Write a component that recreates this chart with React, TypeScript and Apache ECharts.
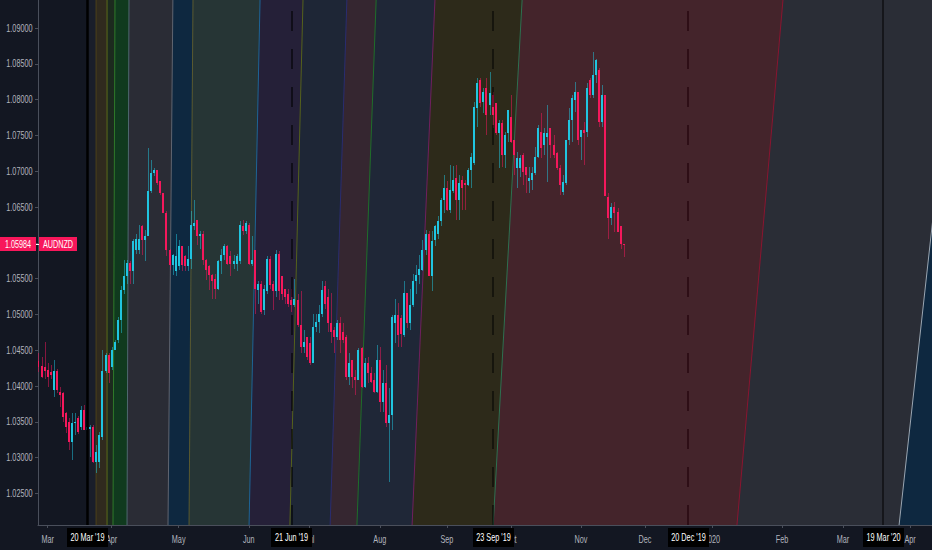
import React, { useEffect, useRef } from "react";
import * as echarts from "echarts";

// ---- Daily AUDNZD candles (bar index 0 = 26 Feb 2019, weekdays only) ----
const opens = [
  1.0435,1.0428,1.0427,1.0422,1.0420,1.0394,1.0421,1.0392,1.0390,1.0362,
  1.0350,1.0322,1.0348,1.0355,1.0343,1.0366,1.0338,1.0340,1.0343,1.0294,
  1.0294,1.0329,1.0421,1.0443,1.0427,1.0450,1.0464,1.0492,1.0534,1.0553,
  1.0572,1.0560,1.0590,1.0590,1.0623,1.0604,1.0609,1.0672,1.0697,1.0702,
  1.0686,1.0669,1.0641,1.0590,1.0569,1.0560,1.0567,1.0595,1.0581,1.0567,
  1.0578,1.0623,1.0632,1.0609,1.0613,1.0576,1.0567,1.0555,1.0550,1.0536,
  1.0574,1.0583,1.0595,1.0581,1.0571,1.0571,1.0574,1.0623,1.0616,1.0625,
  1.0571,1.0590,1.0534,1.0543,1.0506,1.0532,1.0578,1.0543,1.0532,1.0585,
  1.0553,1.0536,1.0529,1.0520,1.0513,1.0520,1.0485,1.0455,1.0469,1.0460,
  1.0432,1.0483,1.0490,1.0501,1.0539,1.0525,1.0488,1.0478,1.0469,1.0488,
  1.0476,1.0469,1.0413,1.0436,1.0413,1.0408,1.0453,1.0399,1.0432,1.0418,
  1.0408,1.0392,1.0436,1.0378,1.0404,1.0348,1.0359,1.0488,1.0499,1.0495,
  1.0471,1.0530,1.0488,1.0513,1.0546,1.0555,1.0562,1.0590,1.0613,1.0553,
  1.0604,1.0613,1.0630,1.0660,1.0676,1.0646,1.0672,1.0690,1.0660,1.0688,
  1.0683,1.0681,1.0702,1.0711,1.0788,1.0827,1.0797,1.0816,1.0792,1.0806,
  1.0795,1.0753,1.0767,1.0723,1.0753,1.0776,1.0743,1.0704,1.0704,1.0723,
  1.0706,1.0686,1.0688,1.0697,1.0720,1.0755,1.0737,1.0748,1.0760,1.0737,
  1.0725,1.0704,1.0671,1.0683,1.0744,1.0772,1.0800,1.0811,1.0748,1.0758,
  1.0755,1.0827,1.0806,1.0834,1.0841,1.0769,1.0806,1.0664,1.0634,1.0650,
  1.0643,1.0623,1.0599,
];
const closes = [
  1.0427,1.0413,1.0421,1.0413,1.0415,1.0421,1.0394,1.0387,1.0357,1.0343,
  1.0322,1.0348,1.0350,1.0336,1.0366,1.0338,1.0343,1.0343,1.0294,1.0308,
  1.0331,1.0421,1.0443,1.0418,1.0450,1.0462,1.0492,1.0534,1.0553,1.0572,
  1.0560,1.0602,1.0606,1.0606,1.0604,1.0609,1.0672,1.0697,1.0702,1.0683,
  1.0669,1.0641,1.0590,1.0569,1.0583,1.0581,1.0595,1.0569,1.0567,1.0578,
  1.0625,1.0627,1.0609,1.0613,1.0576,1.0562,1.0555,1.0546,1.0536,1.0574,
  1.0583,1.0595,1.0571,1.0571,1.0574,1.0581,1.0625,1.0616,1.0627,1.0571,
  1.0576,1.0536,1.0543,1.0504,1.0536,1.0578,1.0541,1.0532,1.0585,1.0532,
  1.0529,1.0525,1.0515,1.0513,1.0522,1.0485,1.0455,1.0462,1.0441,1.0432,
  1.0483,1.0490,1.0501,1.0534,1.0515,1.0488,1.0476,1.0469,1.0488,1.0464,
  1.0464,1.0413,1.0432,1.0413,1.0408,1.0450,1.0399,1.0432,1.0418,1.0406,
  1.0392,1.0436,1.0378,1.0404,1.0348,1.0359,1.0497,1.0499,1.0471,1.0473,
  1.0530,1.0488,1.0513,1.0546,1.0555,1.0564,1.0590,1.0613,1.0553,1.0602,
  1.0623,1.0630,1.0660,1.0676,1.0646,1.0674,1.0688,1.0660,1.0683,1.0676,
  1.0681,1.0702,1.0720,1.0790,1.0823,1.0795,1.0811,1.0779,1.0809,1.0779,
  1.0753,1.0767,1.0723,1.0751,1.0786,1.0741,1.0723,1.0718,1.0718,1.0699,
  1.0695,1.0690,1.0697,1.0720,1.0760,1.0732,1.0753,1.0753,1.0737,1.0723,
  1.0704,1.0681,1.0685,1.0744,1.0772,1.0802,1.0811,1.0744,1.0758,1.0753,
  1.0816,1.0806,1.0834,1.0855,1.0769,1.0806,1.0666,1.0634,1.0650,1.0641,
  1.0615,1.0599,1.0598,
];
const highs = [
  1.0446,1.0441,1.0462,1.0432,1.0430,1.0436,1.0424,1.0399,1.0392,1.0364,
  1.0355,1.0362,1.0362,1.0358,1.0372,1.0373,1.0350,1.0345,1.0345,1.0317,
  1.0336,1.0450,1.0446,1.0446,1.0455,1.0464,1.0497,1.0539,1.0576,1.0576,
  1.0574,1.0606,1.0613,1.0625,1.0625,1.0618,1.0732,1.0716,1.0704,1.0702,
  1.0686,1.0669,1.0644,1.0592,1.0585,1.0613,1.0604,1.0595,1.0583,1.0595,
  1.0644,1.0660,1.0632,1.0616,1.0616,1.0578,1.0569,1.0557,1.0557,1.0576,
  1.0592,1.0599,1.0597,1.0588,1.0583,1.0585,1.0630,1.0632,1.0630,1.0627,
  1.0609,1.0590,1.0546,1.0546,1.0541,1.0581,1.0581,1.0546,1.0590,1.0588,
  1.0553,1.0536,1.0536,1.0536,1.0550,1.0529,1.0532,1.0478,1.0469,1.0469,
  1.0501,1.0501,1.0513,1.0546,1.0546,1.0536,1.0530,1.0483,1.0492,1.0497,
  1.0488,1.0471,1.0446,1.0436,1.0422,1.0453,1.0455,1.0439,1.0441,1.0427,
  1.0418,1.0457,1.0455,1.0422,1.0429,1.0397,1.0499,1.0522,1.0516,1.0499,
  1.0546,1.0530,1.0536,1.0557,1.0569,1.0583,1.0604,1.0618,1.0616,1.0616,
  1.0625,1.0637,1.0662,1.0695,1.0686,1.0709,1.0707,1.0709,1.0695,1.0693,
  1.0688,1.0704,1.0725,1.0797,1.0830,1.0830,1.0816,1.0830,1.0839,1.0811,
  1.0795,1.0772,1.0772,1.0755,1.0786,1.0806,1.0743,1.0727,1.0723,1.0725,
  1.0706,1.0706,1.0706,1.0734,1.0765,1.0781,1.0760,1.0793,1.0760,1.0750,
  1.0727,1.0709,1.0695,1.0744,1.0788,1.0806,1.0825,1.0811,1.0758,1.0769,
  1.0823,1.0830,1.0867,1.0857,1.0844,1.0820,1.0806,1.0669,1.0655,1.0657,
  1.0648,1.0623,1.0599,
];
const lows = [
  1.0420,1.0411,1.0410,1.0399,1.0410,1.0385,1.0390,1.0371,1.0350,1.0335,
  1.0310,1.0296,1.0331,1.0333,1.0338,1.0338,1.0318,1.0301,1.0292,1.0278,
  1.0285,1.0324,1.0418,1.0404,1.0422,1.0450,1.0460,1.0474,1.0529,1.0543,
  1.0543,1.0543,1.0585,1.0585,1.0583,1.0574,1.0609,1.0669,1.0693,1.0681,
  1.0667,1.0641,1.0581,1.0562,1.0555,1.0553,1.0562,1.0560,1.0560,1.0560,
  1.0564,1.0618,1.0597,1.0592,1.0569,1.0548,1.0534,1.0522,1.0522,1.0534,
  1.0557,1.0576,1.0569,1.0553,1.0564,1.0560,1.0571,1.0611,1.0613,1.0569,
  1.0567,1.0501,1.0515,1.0501,1.0499,1.0529,1.0536,1.0506,1.0525,1.0520,
  1.0520,1.0515,1.0511,1.0504,1.0511,1.0483,1.0446,1.0446,1.0436,1.0429,
  1.0432,1.0476,1.0474,1.0497,1.0508,1.0476,1.0460,1.0446,1.0464,1.0446,
  1.0460,1.0408,1.0401,1.0397,1.0387,1.0408,1.0397,1.0397,1.0404,1.0404,
  1.0390,1.0390,1.0364,1.0364,1.0343,1.0266,1.0338,1.0460,1.0455,1.0455,
  1.0469,1.0481,1.0478,1.0511,1.0529,1.0543,1.0560,1.0583,1.0553,1.0532,
  1.0595,1.0606,1.0623,1.0641,1.0644,1.0641,1.0669,1.0632,1.0632,1.0646,
  1.0646,1.0679,1.0676,1.0709,1.0762,1.0790,1.0781,1.0751,1.0779,1.0760,
  1.0751,1.0704,1.0706,1.0704,1.0741,1.0739,1.0695,1.0676,1.0692,1.0681,
  1.0669,1.0669,1.0674,1.0695,1.0718,1.0718,1.0723,1.0685,1.0718,1.0718,
  1.0702,1.0667,1.0667,1.0681,1.0737,1.0741,1.0783,1.0737,1.0716,1.0709,
  1.0748,1.0802,1.0802,1.0823,1.0762,1.0762,1.0666,1.0606,1.0625,1.0615,
  1.0615,1.0592,1.0580,
];

// ---- axes ----
const monthTickIdx = [3, 24, 46, 69, 89, 112, 134, 155, 178, 199, 221, 244, 264, 286];
const monthTickLabels = ["Mar", "Apr", "May", "Jun", "Jul", "Aug", "Sep", "Oct", "Nov", "Dec", "2020", "Feb", "Mar", "Apr"];
const priceTicks = [1.025, 1.03, 1.035, 1.04, 1.045, 1.05, 1.055, 1.06, 1.065, 1.07, 1.075, 1.08, 1.085, 1.09];

// ---- vertical event lines ----
const eventIdx = [16, 83, 149, 213, 277];
const eventLabels = ["20 Mar '19", "21 Jun '19", "23 Sep '19", "20 Dec '19", "19 Mar '20"];

// ---- fan bands: each starts at a boundary (bar index at plot bottom / at plot top) ----
const bandStartBottom = [16, 18.9, 22.5, 24.45, 29.05, 42.5, 49.4, 69.1, 82.5, 95.7, 104.5, 122.6, 149.2, 229.2, 282.4];
const bandStartTop = [16, 18.9, 22.5, 25.1, 29.7, 44.1, 50.7, 72.7, 86.8, 101.2, 110.8, 130.1, 158.7, 244.3, 301.4];

const lastPrice = 1.05984;
const symbolName = "AUDNZD";

// ---- styles ----
const FONT = "'Liberation Sans', Arial, sans-serif";
const FS = 11;
const SX = 0.66; // the reference's text is horizontally condensed
const BG = "#131722";
const AXIS = "#4a4f5b";
const LABEL = "#b2b5be";
const UP = "#20c5e0";
const DOWN = "#f5185c";
const UP_WICK = "rgba(32,197,224,0.5)";
const DOWN_WICK = "rgba(245,24,92,0.5)";
const TAG = "#f8175b";
const bandFills = ["#1a1e2a", "#302a1e", "#1c2a1e", "#103a1e", "#2a2c35", "#0e2840", "#263535", "#252038", "#1e2636", "#352630", "#1f2737", "#2d2a1a", "#44242b", "#2a2d36", "#0e2840"];
const bandEdges = ["rgba(0,0,0,0)", "#4e421a", "#5b6a1a", "#2f7a2a", "#4f6870", "#606570", "#5a5a30", "#1e6496", "#56621c", "#2a2d70", "#1f6e2a", "#70205e", "#2e7050", "#8a1530", "#9aa6b2"];
const eventLineStyles = [
  { color: "#000000", width: 2.5, type: "solid" },
  { color: "rgba(0,0,0,0.55)", width: 2, type: [20, 18] },
  { color: "rgba(0,0,0,0.5)", width: 2, type: [20, 18] },
  { color: "#2e0e16", width: 2, type: [20, 18] },
  { color: "rgba(0,0,0,0.5)", width: 2, type: "solid" },
];

const X_MIN = -0.16;
const X_MAX = 293.2;
const Y_MIN = 1.02059;
const Y_MAX = 1.09391;

function condensedText(x: number, y: number, text: string, fill: string, align: string, z2 = 0) {
  return {
    type: "text",
    x,
    y,
    scaleX: SX,
    z2,
    style: { text, x: 0, y: 0, align, verticalAlign: "middle", fill, fontSize: FS, fontFamily: FONT },
  };
}

function buildOption(): any {
  const n = bandStartBottom.length;
  const bandData = bandStartBottom.map((b, k) => [
    b,
    bandStartTop[k],
    k < n - 1 ? bandStartBottom[k + 1] : 420,
    k < n - 1 ? bandStartTop[k + 1] : 440,
    k,
  ]);
  const candleData = opens.map((o, i) => [i, o, closes[i], lows[i], highs[i]]);

  return {
    animation: false,
    backgroundColor: BG,
    grid: { left: 38, right: 0, top: 0, bottom: 25, containLabel: false, outerBoundsMode: "none" },
    xAxis: {
      type: "value",
      min: X_MIN,
      max: X_MAX,
      axisLine: { show: true, onZero: false, lineStyle: { color: AXIS, width: 1 } },
      axisTick: { show: true, customValues: monthTickIdx, length: 3, lineStyle: { color: AXIS } },
      axisLabel: { show: false, customValues: monthTickIdx },
      splitLine: { show: false },
    },
    yAxis: {
      type: "value",
      min: Y_MIN,
      max: Y_MAX,
      position: "left",
      axisLine: { show: true, onZero: false, lineStyle: { color: AXIS, width: 1 } },
      axisTick: { show: true, customValues: priceTicks, length: 3, lineStyle: { color: AXIS } },
      axisLabel: { show: false, customValues: priceTicks },
      splitLine: { show: false },
    },
    series: [
      {
        type: "custom",
        name: "bands",
        z: 1,
        clip: true,
        silent: true,
        data: bandData,
        encode: { x: 0 },
        renderItem: (params: any, api: any) => {
          const bL = api.value(0), tL = api.value(1), bR = api.value(2), tR = api.value(3), k = api.value(4);
          const p1 = api.coord([bL, Y_MIN]);
          const p2 = api.coord([tL, Y_MAX]);
          const p3 = api.coord([tR, Y_MAX]);
          const p4 = api.coord([bR, Y_MIN]);
          return {
            type: "group",
            children: [
              { type: "polygon", shape: { points: [p1, p2, [p3[0] + 0.5, p3[1]], [p4[0] + 0.5, p4[1]]] }, style: { fill: bandFills[k] } },
              { type: "line", shape: { x1: p1[0], y1: p1[1], x2: p2[0], y2: p2[1] }, style: { stroke: bandEdges[k], lineWidth: 1 } },
            ],
          };
        },
      },
      {
        type: "custom",
        name: "AUDNZD",
        z: 2,
        clip: true,
        silent: true,
        data: candleData,
        encode: { x: 0, y: [1, 2, 3, 4] },
        renderItem: (params: any, api: any) => {
          const i = api.value(0), o = api.value(1), c = api.value(2), l = api.value(3), h = api.value(4);
          const up = c >= o;
          const pO = api.coord([i, o]);
          const pC = api.coord([i, c]);
          const pH = api.coord([i, h]);
          const pL = api.coord([i, l]);
          const cx = Math.round(pO[0]);
          const yTop = Math.round(Math.min(pO[1], pC[1]));
          const yBot = Math.round(Math.max(pO[1], pC[1]));
          const bodyH = Math.max(1, yBot - yTop);
          return {
            type: "group",
            children: [
              {
                type: "rect",
                shape: { x: cx, y: Math.round(pH[1]), width: 1, height: Math.max(1, Math.round(pL[1]) - Math.round(pH[1])) },
                style: { fill: up ? UP_WICK : DOWN_WICK },
              },
              {
                type: "rect",
                shape: { x: cx - 1, y: yTop, width: 2, height: bodyH },
                style: { fill: up ? UP : DOWN },
              },
            ],
          };
        },
      },
      {
        type: "line",
        name: "events",
        z: 4,
        silent: true,
        data: [],
        markLine: {
          silent: true,
          animation: false,
          symbol: ["none", "none"],
          label: { show: false },
          emphasis: { disabled: true },
          data: eventIdx.map((v, k) => ({ xAxis: v, lineStyle: eventLineStyles[k] })),
        },
      },
      {
        type: "custom",
        name: "priceLabels",
        z: 5,
        clip: false,
        silent: true,
        data: priceTicks.map((v) => [X_MIN, v]),
        encode: { x: 0, y: 1 },
        renderItem: (params: any, api: any) => {
          const p = api.coord([api.value(0), api.value(1)]);
          return condensedText(params.coordSys.x - 5.5, p[1], api.value(1).toFixed(5), LABEL, "right");
        },
      },
      {
        type: "custom",
        name: "monthLabels",
        z: 5,
        clip: false,
        silent: true,
        data: monthTickIdx.map((v, k) => [v, Y_MIN, k]),
        encode: { x: 0, y: 1 },
        renderItem: (params: any, api: any) => {
          const p = api.coord([api.value(0), api.value(1)]);
          return condensedText(p[0], p[1] + 14, monthTickLabels[api.value(2)], LABEL, "center");
        },
      },
      {
        type: "custom",
        name: "eventLabels",
        z: 6,
        clip: false,
        silent: true,
        data: eventIdx.map((v, k) => [v, Y_MIN, k]),
        encode: { x: 0, y: 1 },
        renderItem: (params: any, api: any) => {
          const p = api.coord([api.value(0), api.value(1)]);
          const cx = Math.round(p[0]);
          const by = Math.round(p[1]);
          return {
            type: "group",
            children: [
              { type: "rect", shape: { x: cx - 20, y: by + 3, width: 41, height: 19 }, style: { fill: "#000000" } },
              condensedText(cx + 0.5, by + 12.5, eventLabels[api.value(2)], "#ffffff", "center", 1),
            ],
          };
        },
      },
      {
        type: "custom",
        name: "priceTag",
        z: 7,
        clip: false,
        silent: true,
        data: [[X_MIN, lastPrice]],
        encode: { x: 0, y: 1 },
        renderItem: (params: any, api: any) => {
          const p = api.coord([api.value(0), api.value(1)]);
          const gx = params.coordSys.x;
          const y = Math.round(p[1]);
          return {
            type: "group",
            children: [
              { type: "rect", shape: { x: 0, y: y - 7, width: gx - 2, height: 14 }, style: { fill: TAG } },
              condensedText((gx - 2) / 2, y + 0.5, lastPrice.toFixed(5), "#ffffff", "center", 1),
              { type: "rect", shape: { x: gx - 2, y: y, width: 3, height: 1 }, style: { fill: "#ffffff" } },
              { type: "rect", shape: { x: gx + 1, y: y - 7, width: 38, height: 14 }, style: { fill: TAG } },
              condensedText(gx + 20, y + 0.5, symbolName, "#ffffff", "center", 1),
            ],
          };
        },
      },
    ],
  };
}

export default function App() {
  const ref = useRef<HTMLDivElement>(null);
  useEffect(() => {
    document.body.style.margin = "0";
    const chart = echarts.init(ref.current as HTMLDivElement, undefined, { renderer: "svg" });
    chart.setOption(buildOption());
    return () => {
      chart.dispose();
    };
  }, []);
  return <div ref={ref} style={{ position: "absolute", left: 0, top: 0, width: 932, height: 550 }} />;
}
